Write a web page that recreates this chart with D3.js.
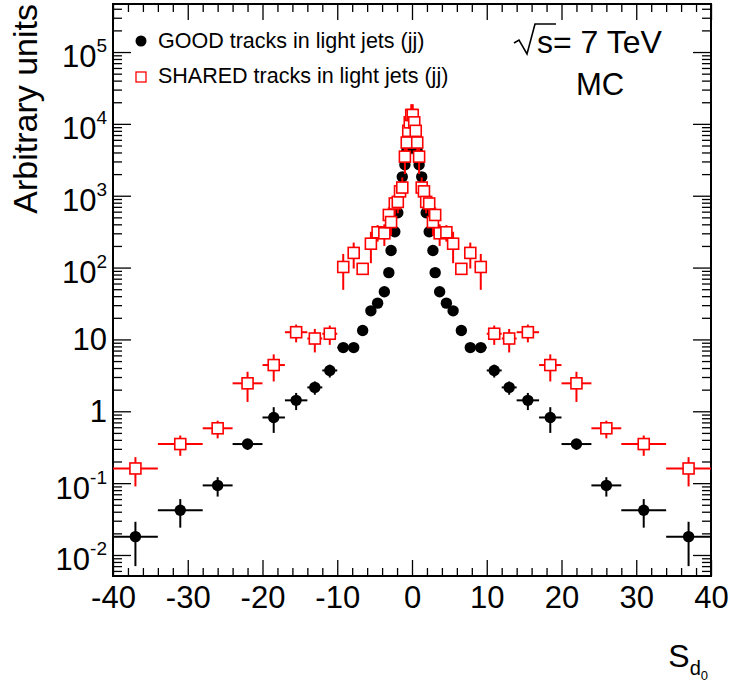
<!DOCTYPE html>
<html>
<head>
<meta charset="utf-8">
<script src="https://cdn.jsdelivr.net/npm/d3@7"></script>
<style>
  html, body { margin: 0; padding: 0; background: #fff; }
  svg { display: block; font-family: "Liberation Sans", Arial, Helvetica, sans-serif; }
</style>
</head>
<body>
<svg id="chart" width="730" height="683"></svg>
<script>
// ---------------- data ----------------
const binCenters = [-37, -31, -26, -22, -18.5, -15.5, -13, -11, -9.2, -7.8, -6.6, -5.5, -4.6, -3.7, -3.1, -2.8, -2.3, -1.9, -1.6, -1.3, -0.95, -0.7, -0.5, -0.3, -0.1,
                     0.1, 0.3, 0.5, 0.7, 0.95, 1.3, 1.6, 1.9, 2.3, 2.8, 3.1, 3.7, 4.6, 5.5, 6.6, 7.8, 9.2, 11, 13, 15.5, 18.5, 22, 26, 31, 37];
const binHalfWidths = [3, 3, 2, 2, 1.5, 1.5, 1, 1, 0.8, 0.6, 0.6, 0.5, 0.4, 0.3, 0.15, 0.2, 0.2, 0.15, 0.15, 0.15, 0.15, 0.1, 0.1, 0.1, 0.1,
                       0.1, 0.1, 0.1, 0.1, 0.15, 0.15, 0.15, 0.15, 0.2, 0.2, 0.15, 0.3, 0.4, 0.5, 0.6, 0.6, 0.8, 1, 1, 1.5, 1.5, 2, 2, 3, 3];
const goodValues = [0.018, 0.042, 0.093, 0.35, 0.82, 1.42, 2.15, 3.7, 7.7, 7.7, 13.3, 25, 32, 46, 85, 173, 316, 580, 1100, 1830, 2700, 4200, 6000, 8000, 9500,
                    9500, 8000, 6000, 4200, 2700, 1830, 1100, 580, 316, 173, 85, 46, 32, 25, 13.3, 7.7, 7.7, 3.7, 2.15, 1.42, 0.82, 0.35, 0.093, 0.042, 0.018];
const goodErrors = [0.011, 0.018, 0.028, 0.06, 0.32, 0.38, 0.45, 0.75, 1.2, 1, 2, 3, 4, 6, 10, 20, 30, 50, 80, 100, 200, 300, 400, 500, 600,
                    600, 500, 400, 300, 200, 100, 80, 50, 30, 20, 10, 6, 4, 3, 2, 1, 1.2, 0.75, 0.45, 0.38, 0.32, 0.06, 0.028, 0.018, 0.011];
const sharedValues = [0.16, 0.35, 0.58, 2.45, 4.4, 12.6, 10.3, 12, 102, 160, 96, 215, 310, 300, 540, 430, 780, 820, 1150, 1300, 3500, 5500, 8000, 10500, 13300,
                      13300, 10500, 8000, 5500, 3500, 1300, 1150, 820, 780, 430, 540, 300, 310, 215, 96, 160, 102, 12, 10.3, 12.6, 4.4, 2.45, 0.58, 0.35, 0.16];
const sharedErrors = [0.07, 0.11, 0.16, 1.1, 1.8, 3.5, 3.7, 3.6, 53, 63, 15, 100, 80, 100, 150, 150, 250, 250, 350, 500, 1500, 2000, 2500, 3500, 5500,
                      5500, 3500, 2500, 2000, 1500, 500, 350, 250, 250, 150, 150, 100, 80, 100, 15, 63, 53, 3.6, 3.7, 3.5, 1.8, 1.1, 0.16, 0.11, 0.07];

const xMajorTicks = [-40, -30, -20, -10, 0, 10, 20, 30, 40];
const xTickLabels = ["-40", "-30", "-20", "-10", "0", "10", "20", "30", "40"];
const yMajorTicks = [0.01, 0.1, 1, 10, 100, 1000, 10000, 100000];
const yTickLabels = [["10", "-2"], ["10", "-1"], ["1", ""], ["10", ""], ["10", "2"], ["10", "3"], ["10", "4"], ["10", "5"]];

const legendLabels = ["GOOD tracks in light jets (jj)", "SHARED tracks in light jets (jj)"];

// ---------------- layout ----------------
const svg = d3.select("#chart");
const frame = { left: 113, right: 711, top: 4, bottom: 576 };
const FONT = "Liberation Sans, Arial, Helvetica, sans-serif";

const x = d3.scaleLinear().domain([-40, 40]).range([frame.left, frame.right]);
const y = d3.scaleLog().domain([0.0051, 4.66e5]).range([frame.bottom, frame.top]);

// minor ticks
const xMinorTicks = d3.range(-40, 40.001, 2).filter(v => xMajorTicks.indexOf(v) < 0);
const yMinorTicks = [];
for (let k = -3; k <= 5; k++) {
  for (let m = 2; m <= 9; m++) {
    const v = m * Math.pow(10, k);
    if (v > y.domain()[0] && v < y.domain()[1]) yMinorTicks.push(v);
  }
}

function styleAxis(g) {
  g.select(".domain").remove();
  g.selectAll("line").attr("stroke", "#000").attr("stroke-width", 1.3);
}

// bottom axis (major with labels)
const gxB = svg.append("g").attr("transform", `translate(0,${frame.bottom})`)
  .call(d3.axisBottom(x).tickValues(xMajorTicks).tickSize(-16).tickPadding(10)
    .tickFormat((d, i) => xTickLabels[i]));
styleAxis(gxB);
gxB.selectAll("text").attr("font-family", FONT).attr("font-size", 31).attr("fill", "#000");
svg.append("g").attr("transform", `translate(0,${frame.bottom})`)
  .call(d3.axisBottom(x).tickValues(xMinorTicks).tickSize(-8).tickFormat("")).call(styleAxis);
// top axis
svg.append("g").attr("transform", `translate(0,${frame.top})`)
  .call(d3.axisTop(x).tickValues(xMajorTicks).tickSize(-16).tickFormat("")).call(styleAxis);
svg.append("g").attr("transform", `translate(0,${frame.top})`)
  .call(d3.axisTop(x).tickValues(xMinorTicks).tickSize(-8).tickFormat("")).call(styleAxis);

// left axis
const gyL = svg.append("g").attr("transform", `translate(${frame.left},0)`)
  .call(d3.axisLeft(y).tickValues(yMajorTicks).tickSize(-18).tickPadding(6).tickFormat(""));
styleAxis(gyL);
gyL.selectAll(".tick").each(function (d, i) {
  const lab = yTickLabels[i];
  const t = d3.select(this).select("text")
    .attr("font-family", FONT).attr("font-size", 31).attr("fill", "#000")
    .attr("dy", lab[1] ? "0.48em" : "0.33em");
  t.text(null);
  t.append("tspan").text(lab[0]);
  if (lab[1]) t.append("tspan").attr("font-size", 19).attr("dy", -15).text(lab[1]);
});
svg.append("g").attr("transform", `translate(${frame.left},0)`)
  .call(d3.axisLeft(y).tickValues(yMinorTicks).tickSize(-9).tickFormat("")).call(styleAxis);
// right axis
svg.append("g").attr("transform", `translate(${frame.right},0)`)
  .call(d3.axisRight(y).tickValues(yMajorTicks).tickSize(-18).tickFormat("")).call(styleAxis);
svg.append("g").attr("transform", `translate(${frame.right},0)`)
  .call(d3.axisRight(y).tickValues(yMinorTicks).tickSize(-9).tickFormat("")).call(styleAxis);

// frame
svg.append("rect")
  .attr("x", frame.left).attr("y", frame.top)
  .attr("width", frame.right - frame.left).attr("height", frame.bottom - frame.top)
  .attr("fill", "none").attr("stroke", "#000").attr("stroke-width", 2);

// axis titles
svg.append("text")
  .attr("transform", `translate(37,${frame.top}) rotate(-90)`)
  .attr("text-anchor", "end").attr("font-family", FONT).attr("font-size", 34).attr("fill", "#000")
  .text("Arbitrary units");

const xt = svg.append("text").attr("x", 708).attr("y", 667).attr("text-anchor", "end")
  .attr("font-family", FONT).attr("font-size", 32).attr("fill", "#000");
xt.append("tspan").text("S");
xt.append("tspan").attr("font-size", 20).attr("dy", 8).text("d");
xt.append("tspan").attr("font-size", 13).attr("dy", 5).text("0");

// ---------------- data marks ----------------
const yLo = (v, e) => y(Math.max(v - e, y.domain()[0]));
const yHi = (v, e) => y(Math.min(v + e, y.domain()[1]));

const plot = svg.append("g");
function drawSeries(values, errors, color) {
  const g = plot.append("g");
  const idx = d3.range(values.length);
  g.selectAll("line.ex").data(idx).join("line").attr("class", "ex")
    .attr("x1", i => x(binCenters[i] - binHalfWidths[i])).attr("x2", i => x(binCenters[i] + binHalfWidths[i]))
    .attr("y1", i => y(values[i])).attr("y2", i => y(values[i]))
    .attr("stroke", color).attr("stroke-width", 2);
  g.selectAll("line.ey").data(idx).join("line").attr("class", "ey")
    .attr("x1", i => x(binCenters[i])).attr("x2", i => x(binCenters[i]))
    .attr("y1", i => yLo(values[i], errors[i])).attr("y2", i => yHi(values[i], errors[i]))
    .attr("stroke", color).attr("stroke-width", 2);
  return { g, idx };
}

const good = drawSeries(goodValues, goodErrors, "#000");
good.g.selectAll("circle").data(good.idx).join("circle")
  .attr("cx", i => x(binCenters[i])).attr("cy", i => y(goodValues[i])).attr("r", 5.7)
  .attr("fill", "#000");

const shared = drawSeries(sharedValues, sharedErrors, "#ff0000");
shared.g.selectAll("rect").data(shared.idx).join("rect")
  .attr("x", i => x(binCenters[i]) - 5.5).attr("y", i => y(sharedValues[i]) - 5.5)
  .attr("width", 11).attr("height", 11)
  .attr("fill", "#fff").attr("stroke", "#ff0000").attr("stroke-width", 1.6);

// ---------------- legend ----------------
const leg = svg.append("g");
leg.append("circle").attr("cx", 141).attr("cy", 41).attr("r", 5.5).attr("fill", "#000");
leg.append("rect").attr("x", 136).attr("y", 72).attr("width", 10).attr("height", 10)
  .attr("fill", "#fff").attr("stroke", "#ff0000").attr("stroke-width", 1.3);
leg.selectAll("text").data(legendLabels).join("text")
  .attr("x", 158).attr("y", (d, i) => 48 + i * 35)
  .attr("font-family", FONT).attr("font-size", 21.5).attr("fill", "#000")
  .text(d => d);

// ---------------- energy / MC label ----------------
svg.append("path")
  .attr("d", "M514,43 L519,40 L527,54 L535,24 L556,24")
  .attr("fill", "none").attr("stroke", "#000").attr("stroke-width", 1.6);
svg.append("text").attr("x", 537).attr("y", 53)
  .attr("font-family", FONT).attr("font-size", 32).attr("fill", "#000")
  .text("s= 7 TeV");
svg.append("text").attr("x", 600).attr("y", 95).attr("text-anchor", "middle")
  .attr("font-family", FONT).attr("font-size", 31).attr("fill", "#000")
  .text("MC");
</script>
</body>
</html>
